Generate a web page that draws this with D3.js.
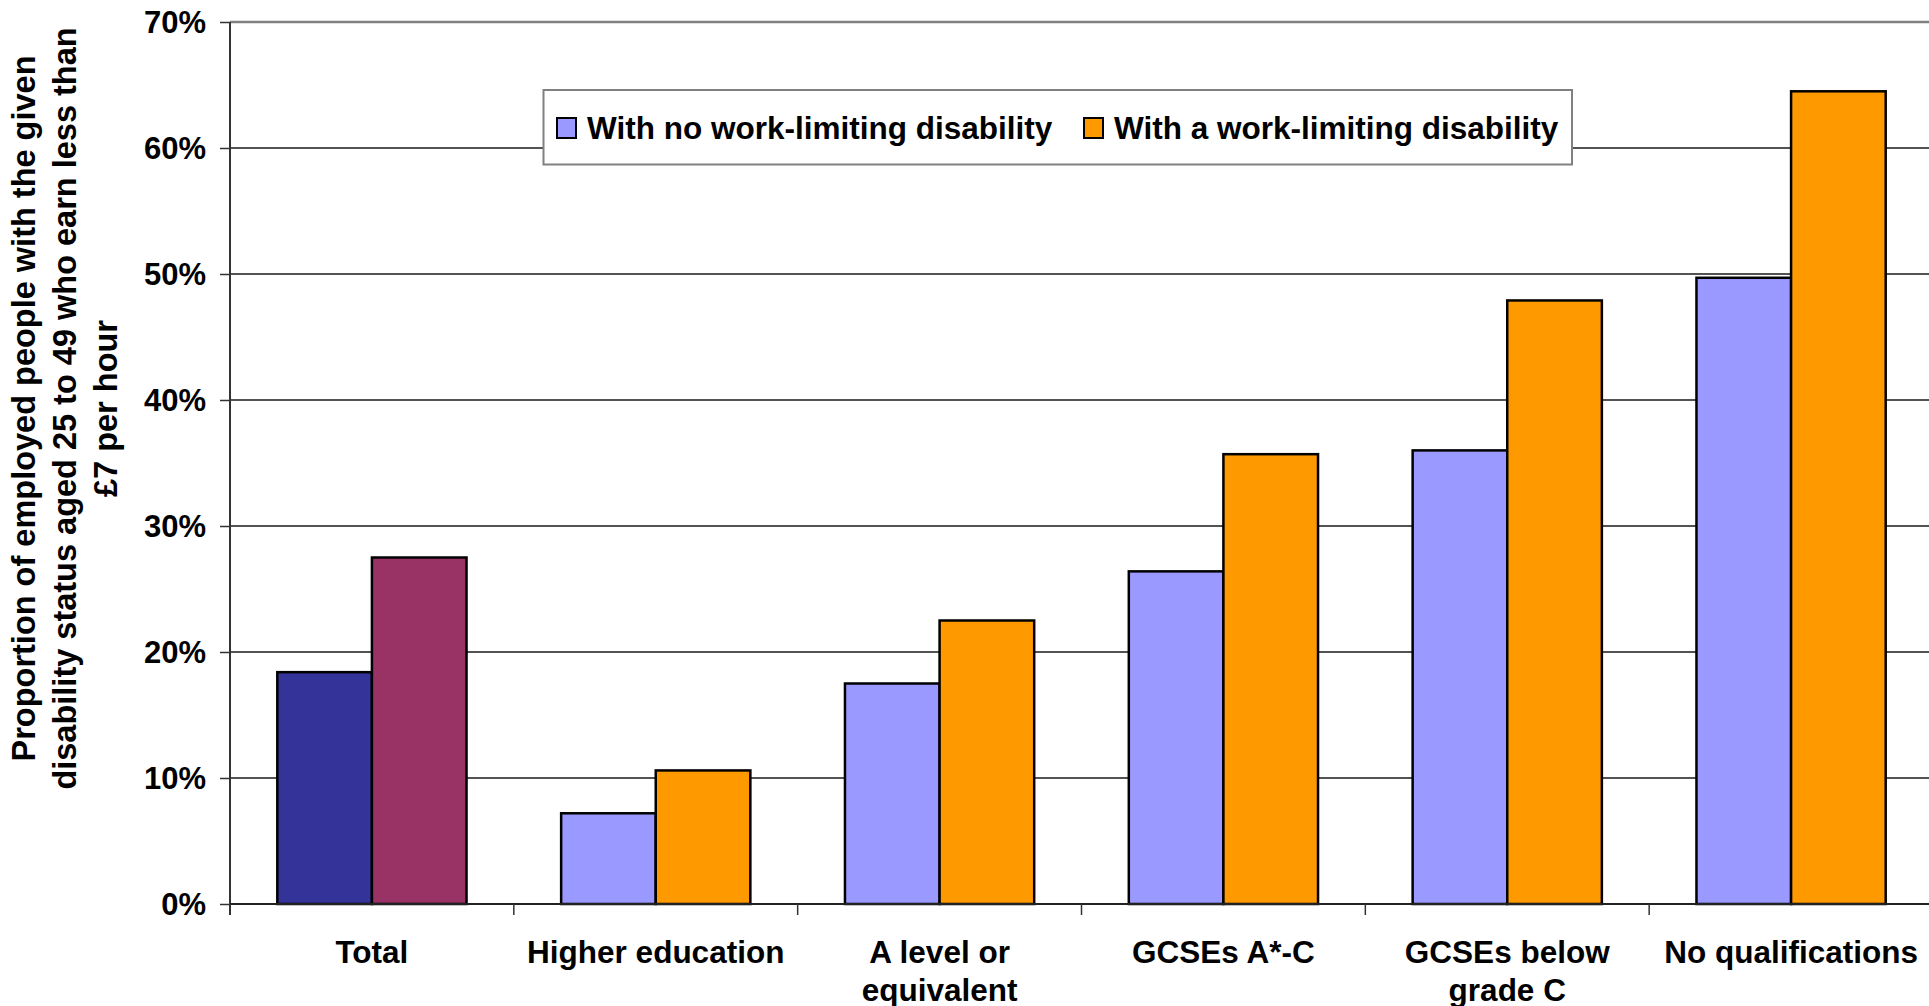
<html>
<head>
<script src="https://cdnjs.cloudflare.com/ajax/libs/d3/7.8.5/d3.min.js"></script>
<style>
  body { margin: 0; background: #fff; }
  svg text { font-family: "Liberation Sans", Arial, sans-serif; font-weight: bold; fill: #000; }
  .grid line { stroke: #1a1a1a; stroke-width: 1.5; }
  .bar { stroke: #000; stroke-width: 2.5; }
</style>
</head>
<body>
<svg id="chart" width="1929" height="1006"></svg>
<script>
// values (percent)
var categories = ["Total", "Higher education", "A level or\nequivalent", "GCSEs A*-C", "GCSEs below\ngrade C", "No qualifications"];
var seriesNames = ["With no work-limiting disability", "With a work-limiting disability"];
var noDisability = [18.4, 7.2, 17.5, 26.4, 36.0, 49.7];
var withDisability = [27.5, 10.6, 22.5, 35.7, 47.9, 64.5];
var yTicks = [0, 10, 20, 30, 40, 50, 60, 70];

var colors = ["#9999FF", "#FF9900"];
var totalColors = ["#333399", "#993366"];

var svg = d3.select("#chart");
var pLeft = 230, pRight = 1933, pTop = 22, pBottom = 904;

var x = d3.scaleBand().domain(categories).range([pLeft, pRight]);
var xs = d3.scaleBand().domain([0, 1]).range([0, x.bandwidth()]).paddingInner(0).paddingOuter(0.5);
var y = d3.scaleLinear().domain([0, 70]).range([pBottom, pTop]);

// gridlines
svg.append("g").attr("class", "grid")
  .selectAll("line").data(yTicks.slice(1, -1)).enter().append("line")
  .attr("x1", pLeft).attr("x2", 1929)
  .attr("y1", d => y(d)).attr("y2", d => y(d));

// plot border top
svg.append("line").attr("x1", pLeft).attr("x2", 1929)
  .attr("y1", y(70)).attr("y2", y(70))
  .attr("stroke", "#808080").attr("stroke-width", 2.5);

// bars
var rows = categories.map((c, i) => ({ cat: c, i: i, vals: [noDisability[i], withDisability[i]] }));
var groups = svg.selectAll("g.cat").data(rows).enter().append("g")
  .attr("class", "cat")
  .attr("transform", d => "translate(" + x(d.cat) + ",0)");
groups.selectAll("rect").data(d => d.vals.map((v, k) => ({ v: v, k: k, i: d.i }))).enter()
  .append("rect").attr("class", "bar")
  .attr("x", d => xs(d.k))
  .attr("width", xs.bandwidth())
  .attr("y", d => y(d.v))
  .attr("height", d => y(0) - y(d.v))
  .attr("fill", d => d.i == 0 ? totalColors[d.k] : colors[d.k]);

// y axis
var yAxis = d3.axisLeft(y).tickValues(yTicks).tickSize(10).tickPadding(14)
  .tickFormat(d => d + "%");
var ya = svg.append("g").attr("transform", "translate(" + pLeft + ",0)").call(yAxis);
ya.select(".domain").attr("stroke", "#333").attr("stroke-width", 2)
  .attr("d", "M0," + pTop + "V" + (pBottom + 11));
ya.selectAll(".tick line").attr("stroke", "#333").attr("stroke-width", 1.5);
ya.selectAll("text").style("font-size", "31px").attr("dy", "0.35em");

// x axis
var xa = svg.append("g").attr("transform", "translate(0," + pBottom + ")");
xa.append("line").attr("x1", pLeft).attr("x2", 1929).attr("stroke", "#222").attr("stroke-width", 2);
xa.selectAll("line.tk").data(categories.concat(["_end"])).enter().append("line")
  .attr("class", "tk")
  .attr("x1", (d, i) => pLeft + i * x.step()).attr("x2", (d, i) => pLeft + i * x.step())
  .attr("y1", 0).attr("y2", 11).attr("stroke", "#333").attr("stroke-width", 1.5);
var xl = xa.selectAll("text.lbl").data(categories).enter().append("text")
  .attr("class", "lbl")
  .attr("text-anchor", "middle")
  .style("font-size", "31.5px")
  .attr("transform", d => "translate(" + (x(d) + x.bandwidth() / 2) + ",59)");
xl.selectAll("tspan").data(d => d.split("\n")).enter().append("tspan")
  .attr("x", 0).attr("dy", (d, i) => i == 0 ? 0 : 38).text(d => d);

// y title
var yTitle = ["Proportion of employed people with the given",
              "disability status aged 25 to 49 who earn less than",
              "\u00a37 per hour"];
var yt = svg.append("text").attr("text-anchor", "middle").style("font-size", "32.5px")
  .attr("transform", "translate(35,408.5) rotate(-90)");
yt.selectAll("tspan").data(yTitle).enter().append("tspan")
  .attr("x", 0).attr("y", (d, i) => i * 41).text(d => d);

// legend
var lg = svg.append("g");
lg.append("rect").attr("x", 543.5).attr("y", 90).attr("width", 1028.5).attr("height", 74.5)
  .attr("fill", "#fff").attr("stroke", "#808080").attr("stroke-width", 2);
var legendX = [557, 1084];
seriesNames.forEach(function (s, k) {
  lg.append("rect").attr("x", legendX[k]).attr("y", 118).attr("width", 19).attr("height", 20)
    .attr("fill", colors[k]).attr("stroke", "#000").attr("stroke-width", 2);
  lg.append("text").attr("x", legendX[k] + 30).attr("y", 138.5)
    .style("font-size", "31.5px").text(s);
});
</script>
</body>
</html>
